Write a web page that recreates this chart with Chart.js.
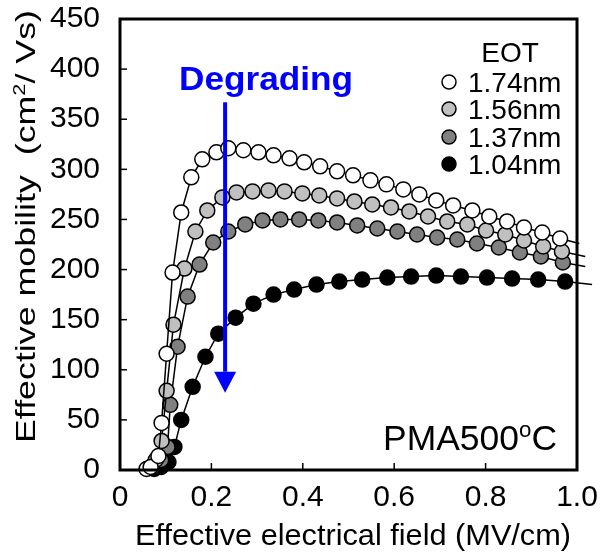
<!DOCTYPE html>
<html>
<head>
<meta charset="utf-8">
<script src="https://cdn.jsdelivr.net/npm/chart.js@4"></script>
<style>
  html, body { margin: 0; padding: 0; background: #fff; }
</style>
</head>
<body>
<canvas id="mobilityChart" width="606" height="553"></canvas>
<script>
// Effective field (MV/cm) and mobility (cm2/Vs) for each EOT.
// Last point of each series is the end of the fitted line (no marker).
const field174 = [0.058, 0.067, 0.084, 0.091, 0.102, 0.115, 0.134, 0.156, 0.180, 0.211, 0.237, 0.270, 0.303, 0.336, 0.371, 0.403, 0.438, 0.475, 0.510, 0.548, 0.583, 0.620, 0.655, 0.692, 0.729, 0.771, 0.808, 0.847, 0.884, 0.924, 0.963, 1.005];
const mob174   = [1, 3, 14, 47, 116, 197, 257, 292, 310, 317, 321, 319, 317, 314, 311, 307, 303, 298, 294, 289, 285, 280, 275, 269, 264, 259, 253, 248, 242, 237, 231, 226];

const field156 = [0.065, 0.078, 0.091, 0.102, 0.117, 0.141, 0.165, 0.191, 0.224, 0.255, 0.290, 0.325, 0.360, 0.399, 0.436, 0.475, 0.513, 0.552, 0.593, 0.633, 0.674, 0.716, 0.760, 0.801, 0.843, 0.884, 0.926, 0.967, 1.018];
const mob156   = [2, 10, 29, 79, 145, 201, 238, 259, 272, 277, 278, 279, 278, 276, 274, 271, 268, 265, 262, 258, 253, 248, 245, 239, 235, 229, 223, 218, 213];

const field137 = [0.070, 0.090, 0.104, 0.110, 0.126, 0.148, 0.174, 0.204, 0.237, 0.274, 0.312, 0.351, 0.392, 0.434, 0.475, 0.519, 0.563, 0.607, 0.650, 0.694, 0.738, 0.781, 0.829, 0.875, 0.921, 0.969, 1.018];
const mob137   = [2, 10, 23, 65, 123, 173, 205, 227, 238, 245, 249, 250, 250, 249, 247, 244, 241, 238, 235, 232, 230, 226, 222, 217, 213, 207, 203];

const field104 = [0.075, 0.090, 0.106, 0.119, 0.134, 0.159, 0.187, 0.215, 0.253, 0.292, 0.336, 0.381, 0.430, 0.480, 0.530, 0.585, 0.637, 0.692, 0.746, 0.803, 0.858, 0.915, 0.974, 1.033];
const mob104   = [1, 3, 8, 23, 50, 83, 113, 136, 152, 166, 175, 180, 185, 188, 190, 192, 193, 194, 193, 192, 191, 190, 188, 185];

const eotLabels = ['1.74nm', '1.56nm', '1.37nm', '1.04nm'];
const xTickValues = [0, 0.2, 0.4, 0.6, 0.8, 1.0];
const yTickValues = [0, 50, 100, 150, 200, 250, 300, 350, 400, 450];

const FONT = 'Arial, "Liberation Sans", sans-serif';
const fills = ['#ffffff', '#c0c0c0', '#808080', '#000000'];

function toPoints(xs, ys) {
    return xs.map((x, i) => ({ x: x, y: ys[i] }));
}

// draw a run of text pieces, squeezed/stretched to a target width
function drawRich(ctx, parts, x, y, targetWidth) {
    let total = 0;
    parts.forEach(p => {
        ctx.font = p.font;
        p.w = ctx.measureText(p.t).width;
        total += p.w;
    });
    const sx = targetWidth ? targetWidth / total : 1;
    ctx.save();
    ctx.translate(x, y);
    ctx.scale(sx, 1);
    let cx = 0;
    parts.forEach(p => {
        ctx.font = p.font;
        ctx.fillText(p.t, cx, -(p.rise || 0));
        cx += p.w;
    });
    ctx.restore();
}

const decorPlugin = {
    id: 'decor',
    afterDraw(chart) {
        const { ctx, chartArea: a, scales } = chart;
        const xs = scales.x, ys = scales.y;
        ctx.save();

        // inward tick marks
        ctx.strokeStyle = '#000';
        ctx.lineWidth = 1.5;
        xTickValues.slice(1, -1).forEach(v => {
            const px = xs.getPixelForValue(v);
            ctx.beginPath(); ctx.moveTo(px, a.bottom); ctx.lineTo(px, a.bottom - 7); ctx.stroke();
        });
        yTickValues.slice(1, -1).forEach(v => {
            const py = ys.getPixelForValue(v);
            ctx.beginPath(); ctx.moveTo(a.left, py); ctx.lineTo(a.left + 7, py); ctx.stroke();
        });

        // frame
        ctx.lineWidth = 3;
        ctx.strokeRect(a.left, a.top, a.right - a.left, a.bottom - a.top);

        // "Degrading" arrow
        const ax = xs.getPixelForValue(0.23);
        const aTop = ys.getPixelForValue(367);
        const aBase = ys.getPixelForValue(98);
        const aTip = ys.getPixelForValue(77);
        ctx.strokeStyle = '#0000ff';
        ctx.fillStyle = '#0000ff';
        ctx.lineWidth = 4;
        ctx.beginPath(); ctx.moveTo(ax, aTop); ctx.lineTo(ax, aBase); ctx.stroke();
        ctx.beginPath();
        ctx.moveTo(ax - 11, aBase); ctx.lineTo(ax + 11, aBase); ctx.lineTo(ax, aTip);
        ctx.closePath(); ctx.fill();
        ctx.textBaseline = 'alphabetic';
        drawRich(ctx, [{ t: 'Degrading', font: 'bold 33px ' + FONT }], 179, 90, 174);

        // legend
        ctx.fillStyle = '#000';
        ctx.font = '28px ' + FONT;
        ctx.textAlign = 'center';
        ctx.fillText('EOT', 510, 62);
        ctx.textAlign = 'left';
        const rows = [82, 109, 137, 164];
        eotLabels.forEach((lab, i) => {
            ctx.beginPath();
            ctx.arc(449, rows[i], 7, 0, Math.PI * 2);
            ctx.fillStyle = fills[i];
            ctx.fill();
            ctx.lineWidth = 1.5;
            ctx.strokeStyle = '#000';
            ctx.stroke();
            ctx.fillStyle = '#000';
            ctx.font = '28px ' + FONT;
            ctx.fillText(lab, 468, rows[i] + 10);
        });

        // anneal label
        drawRich(ctx, [
            { t: 'PMA500', font: '35px ' + FONT },
            { t: 'o', font: '22px ' + FONT, rise: 13 },
            { t: 'C', font: '35px ' + FONT }
        ], 383, 450, 174);

        // x axis title
        drawRich(ctx, [{ t: 'Effective electrical field (MV/cm)', font: '29px ' + FONT }], 135, 545, 436);

        // y axis title (rotated)
        ctx.save();
        ctx.translate(35, 443);
        ctx.rotate(-Math.PI / 2);
        drawRich(ctx, [
            { t: 'Effective mobility  (cm', font: '28px ' + FONT },
            { t: '2', font: '17px ' + FONT, rise: 10 },
            { t: '/ Vs)', font: '28px ' + FONT }
        ], 0, 0, 433);
        ctx.restore();

        ctx.restore();
    }
};

const series = [
    { xs: field174, ys: mob174 },
    { xs: field156, ys: mob156 },
    { xs: field137, ys: mob137 },
    { xs: field104, ys: mob104 }
];

new Chart(document.getElementById('mobilityChart'), {
    type: 'scatter',
    data: {
        datasets: series.map((s, i) => ({
            label: eotLabels[i],
            data: toPoints(s.xs, s.ys),
            showLine: true,
            borderColor: '#000',
            borderWidth: 1.5,
            backgroundColor: fills[i],
            pointBackgroundColor: fills[i],
            pointBorderColor: '#000',
            pointBorderWidth: 1.5,
            pointRadius: ctx => (ctx.raw && ctx.raw.x > 1 ? 0 : 7.5),
            pointHoverRadius: 7.5,
            clip: false
        }))
    },
    options: {
        responsive: false,
        animation: false,
        layout: { padding: { left: 0, right: 29, top: 19, bottom: 0 } },
        plugins: {
            legend: { display: false },
            tooltip: { enabled: false }
        },
        scales: {
            x: {
                type: 'linear',
                min: 0,
                max: 1,
                afterFit: scale => {
                    scale.height = 83;
                    scale.paddingLeft = 0;
                    scale.paddingRight = 0;
                },
                afterBuildTicks: scale => { scale.ticks = xTickValues.map(v => ({ value: v })); },
                grid: { display: false, drawTicks: false },
                border: { display: false },
                ticks: {
                    padding: 10,
                    color: '#000',
                    font: { family: FONT, size: 30 },
                    callback: v => (v === 0 ? '0' : v.toFixed(1))
                }
            },
            y: {
                min: 0,
                max: 450,
                afterFit: scale => {
                    scale.width = 120;
                    scale.paddingTop = 0;
                    scale.paddingBottom = 0;
                },
                afterBuildTicks: scale => { scale.ticks = yTickValues.map(v => ({ value: v })); },
                grid: { display: false, drawTicks: false },
                border: { display: false },
                ticks: {
                    padding: 20,
                    color: '#000',
                    font: { family: FONT, size: 30 }
                }
            }
        }
    },
    plugins: [decorPlugin]
});
</script>
</body>
</html>
